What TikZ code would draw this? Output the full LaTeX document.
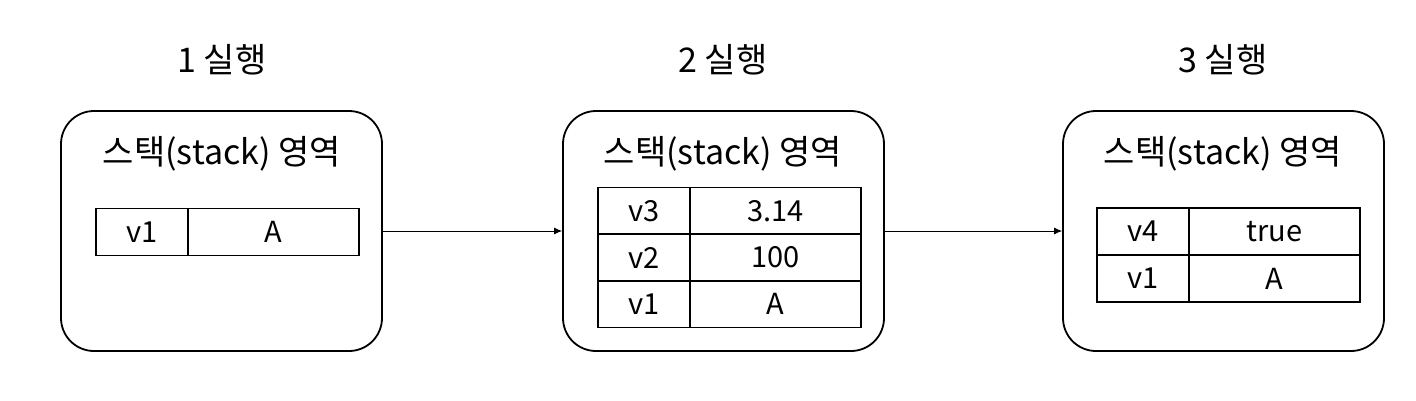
\documentclass[tikz,border=0pt]{standalone}
\usepackage{fontspec}
\setmainfont{Noto Sans CJK KR}
\usetikzlibrary{arrows.meta}
\begin{document}
\begin{tikzpicture}[x=1pt,y=-1pt,
  area/.style={draw, line width=1.8pt, rounded corners=33pt, minimum width=321pt, minimum height=240pt, inner sep=0pt},
  runtitle/.style={font=\fontsize{34}{38}\selectfont},
  areatitle/.style={font=\fontsize{34}{38}\selectfont},
  keycell/.style={draw, line width=1.6pt, minimum width=92pt, minimum height=47pt, inner sep=0pt, font=\fontsize{29}{32}\selectfont},
  valcell/.style={draw, line width=1.6pt, minimum width=171pt, minimum height=47pt, inner sep=0pt, font=\fontsize{29}{32}\selectfont},
  flow/.style={line width=0.8pt, -{Latex[length=8pt,width=7pt]}}]
\useasboundingbox (0,0) rectangle (1416,400);

% titles
\node[runtitle] (t1) at (222,60) {1 실행};
\node[runtitle] (t2) at (723,60) {2 실행};
\node[runtitle] (t3) at (1223,60) {3 실행};

% areas
\node[area] (b1) at (221.5,231) {};
\node[area] (b2) at (723.5,231) {};
\node[area] (b3) at (1223.5,231) {};

\node[areatitle] (h1) at (222,154) {스택(stack) 영역};
\node[areatitle] (h2) at (723,154) {스택(stack) 영역};
\node[areatitle] (h3) at (1223,154) {스택(stack) 영역};

% table 1
\node[keycell] (k11) at (142,232) {v1};
\node[valcell] (v11) at (273.5,232) {A};

% table 2
\node[keycell] (k23) at (644,211) {v3};
\node[valcell] (v23) at (775.5,211) {3.14};
\node[keycell] (k22) at (644,257.5) {v2};
\node[valcell] (v22) at (775.5,257.5) {100};
\node[keycell] (k21) at (644,304) {v1};
\node[valcell] (v21) at (775.5,304) {A};

% table 3
\node[keycell] (k34) at (1143,231.5) {v4};
\node[valcell] (v34) at (1274.5,231.5) {true};
\node[keycell] (k31) at (1143,278.5) {v1};
\node[valcell] (v31) at (1274.5,278.5) {A};

% arrows
\draw[flow] (b1.east) -- (b2.west);
\draw[flow] (b2.east) -- (b3.west);
\end{tikzpicture}
\end{document}
